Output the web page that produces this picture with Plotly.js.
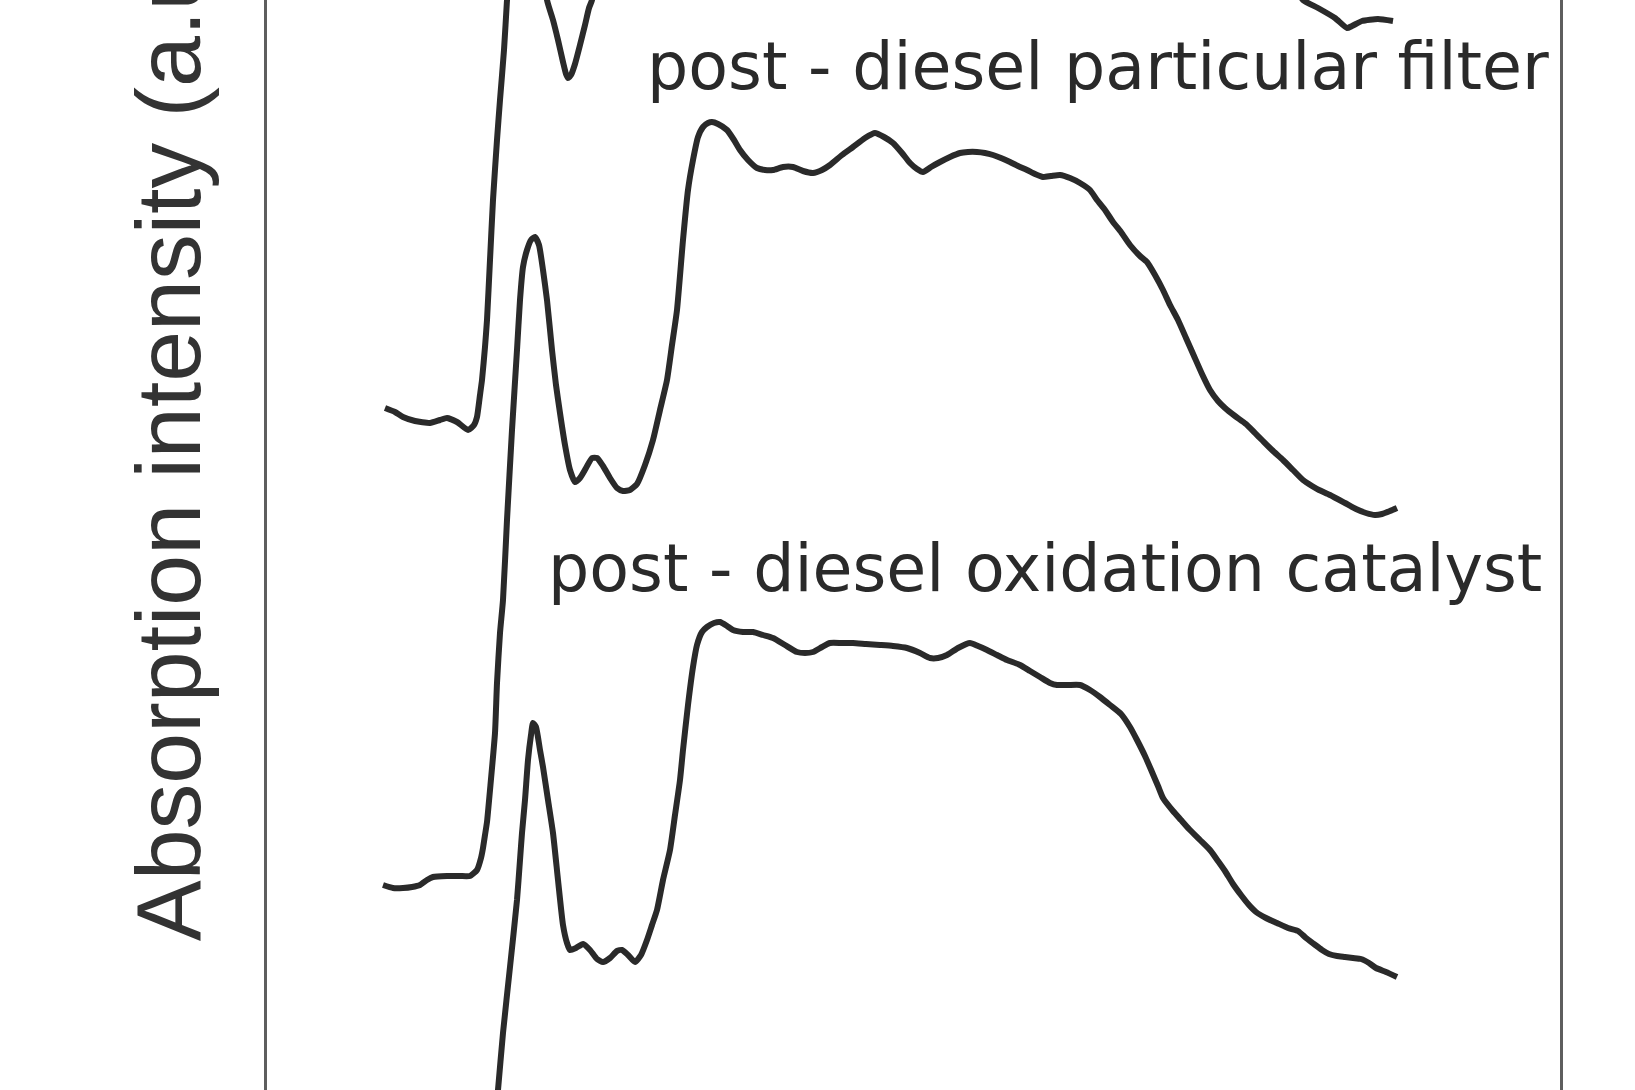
<!DOCTYPE html>
<html>
<head>
<meta charset="utf-8">
<script src="https://cdn.plot.ly/plotly-3.0.1.min.js"></script>
<style>
  html, body { margin: 0; padding: 0; background: #ffffff; overflow: hidden; }
  #chart { width: 1635px; height: 1090px; }
</style>
</head>
<body>
<div id="chart"></div>
<script>
// Relative photon energy (arbitrary units) and stacked absorption intensity (a.u.)
// Upper spectrum (only its pre-edge, white-line dip and tail are visible in the crop)
const upperEnergy = [11.9,12.9,13.7,14.9,16.4,17.4,18.1,19.1,20.2,20.8,21.1,21.4,21.6,21.9,22.1,22.4,22.7,23.1,23.4,23.8,24.1,24.6,25.2,26.0,26.8,27.5,28.1,28.7,29.2,29.7,30.0,30.2,30.5,30.9,31.4,31.9,32.3,32.6,33.2,34.4,37.4,41.4,49.4,63.4,78.4,88.4,96.4,102.4,103.7,105.2,106.9,108.1,108.6,109.6,111.2,112.7];
const upperIntensity = [9.42,9.38,9.33,9.29,9.27,9.30,9.32,9.28,9.20,9.25,9.33,9.55,9.70,10.03,10.30,10.90,11.50,12.10,12.50,13.00,13.50,14.40,15.30,15.80,15.30,14.20,13.50,13.30,13.10,12.88,12.76,12.72,12.75,12.86,13.05,13.25,13.42,13.50,14.10,15.10,16.50,17.10,16.70,16.80,16.40,15.30,14.30,13.70,13.50,13.42,13.32,13.22,13.24,13.29,13.31,13.29];

// post - diesel particular filter
const dpfEnergy = [11.7,12.7,13.7,14.6,15.4,16.1,16.7,18.1,19.4,20.4,21.1,21.5,21.7,21.9,22.1,22.4,22.9,23.1,23.4,23.7,24.1,24.6,25.1,25.4,25.7,26.1,26.5,26.9,27.3,27.7,28.1,28.6,29.0,29.4,29.9,30.4,30.9,31.4,32.0,32.6,33.1,33.7,34.4,35.1,35.7,36.4,37.1,37.9,38.7,39.4,40.1,40.6,41.1,41.7,42.2,42.7,43.2,43.7,44.2,44.6,45.2,46.1,46.8,47.4,48.2,49.1,49.9,50.7,51.7,52.7,53.7,54.7,55.6,56.4,57.6,58.7,59.9,60.9,61.8,62.7,63.6,64.4,65.1,65.7,66.5,67.4,68.4,69.4,70.2,71.1,71.9,72.7,73.5,74.4,75.2,76.1,76.9,77.7,78.5,79.4,80.4,81.4,82.4,83.1,83.9,84.7,85.5,86.4,87.4,88.1,88.9,89.7,90.4,91.2,92.0,92.8,93.6,94.4,95.2,95.9,96.9,98.0,98.9,99.6,100.6,101.7,102.7,103.7,104.6,105.3,106.4,107.9,109.0,110.0,110.9,111.6,112.4,113.1];
const dpfIntensity = [4.65,4.62,4.62,4.63,4.65,4.70,4.73,4.74,4.74,4.74,4.80,4.92,5.02,5.15,5.28,5.60,6.17,6.67,7.17,7.50,8.30,9.20,10.00,10.50,10.83,11.00,11.10,11.13,11.05,10.80,10.50,10.00,9.65,9.37,9.05,8.80,8.68,8.72,8.82,8.92,8.92,8.84,8.72,8.62,8.59,8.60,8.66,8.85,9.10,9.40,9.70,10.05,10.40,11.10,11.60,11.90,12.13,12.23,12.27,12.28,12.26,12.20,12.10,12.00,11.90,11.82,11.80,11.80,11.83,11.83,11.79,11.77,11.80,11.85,11.95,12.03,12.12,12.17,12.13,12.07,11.97,11.87,11.81,11.78,11.83,11.88,11.93,11.97,11.98,11.98,11.97,11.95,11.92,11.88,11.84,11.80,11.76,11.73,11.74,11.75,11.72,11.67,11.60,11.50,11.40,11.28,11.18,11.05,10.94,10.88,10.75,10.60,10.45,10.30,10.12,9.94,9.76,9.60,9.49,9.42,9.34,9.26,9.17,9.10,9.00,8.90,8.80,8.70,8.64,8.60,8.55,8.47,8.41,8.37,8.35,8.36,8.39,8.42];

// post - diesel oxidation catalyst
const docEnergy = [11.7,15.4,18.4,20.4,21.2,21.9,22.5,23.2,23.7,24.4,25.1,25.4,25.6,25.9,26.2,26.5,26.7,27.0,27.4,27.7,28.2,28.7,29.2,29.7,30.1,30.4,31.0,31.7,32.4,33.1,33.7,34.4,35.1,35.6,36.2,36.9,37.5,38.1,38.6,39.1,39.7,40.4,40.9,41.4,41.7,42.2,42.7,43.1,43.6,44.1,44.8,45.4,46.1,46.7,47.7,48.7,49.7,50.7,51.9,53.1,53.9,54.7,55.6,56.4,57.6,58.7,60.0,61.4,62.7,64.1,65.4,66.4,67.2,68.1,69.2,70.4,71.2,72.1,73.1,74.1,75.4,76.4,77.4,78.4,79.1,80.2,81.4,82.4,83.4,84.4,85.5,86.4,87.1,87.9,88.6,89.2,89.7,90.7,91.5,92.3,93.4,94.4,95.2,95.9,96.7,97.5,98.3,99.0,100.0,101.1,102.2,103.2,104.0,104.8,105.6,106.3,107.1,107.9,108.7,109.5,110.3,111.0,112.0,113.1];
const docIntensity = [-0.02,0.00,0.05,0.08,0.30,1.00,1.80,2.60,3.17,3.83,4.50,4.90,5.17,5.50,5.90,6.15,6.27,6.23,6.00,5.83,5.50,5.17,4.70,4.25,4.07,4.00,4.02,4.06,4.00,3.91,3.88,3.92,3.99,4.00,3.95,3.88,3.95,4.10,4.25,4.40,4.70,5.00,5.35,5.70,6.00,6.45,6.83,7.05,7.18,7.23,7.27,7.28,7.24,7.20,7.18,7.18,7.15,7.12,7.05,6.98,6.97,6.98,7.03,7.07,7.07,7.07,7.06,7.05,7.04,7.02,6.97,6.92,6.92,6.95,7.02,7.07,7.04,7.00,6.95,6.90,6.85,6.79,6.73,6.67,6.65,6.65,6.65,6.60,6.53,6.45,6.36,6.23,6.10,5.94,5.78,5.64,5.52,5.39,5.30,5.21,5.10,5.00,4.89,4.79,4.66,4.55,4.45,4.38,4.32,4.27,4.22,4.19,4.12,4.06,4.00,3.96,3.94,3.93,3.92,3.91,3.87,3.82,3.78,3.73];

const seriesNames = ["upper spectrum", "post - diesel particular filter", "post - diesel oxidation catalyst"];
const labelTexts = ["post - diesel particular filter", "post - diesel oxidation catalyst"];
const labelEnergy = [128.5, 127.8];
const labelIntensity = [12.44, 7.42];
const yTitle = "Absorption intensity (a.u.)";

const lineStyle = { color: "#2a2a2a", width: 6, shape: "spline", smoothing: 0.5 };

const traces = [
  { x: upperEnergy, y: upperIntensity, name: seriesNames[0] },
  { x: dpfEnergy, y: dpfIntensity, name: seriesNames[1] },
  { x: docEnergy, y: docIntensity, name: seriesNames[2] }
].map(t => Object.assign(t, { type: "scatter", mode: "lines", line: lineStyle, hoverinfo: "skip" }));

const labelFont = { family: "DejaVu Sans", size: 65, color: "#2a2a2a" };

const annotations = labelTexts.map((txt, i) => ({
  text: txt, x: labelEnergy[i], y: labelIntensity[i], xref: "x", yref: "y",
  xanchor: "right", yanchor: "bottom", showarrow: false, font: labelFont
}));
annotations.push({
  text: yTitle, textangle: -90, xref: "paper", yref: "paper", x: 0, y: 0.6128,
  xshift: -98.7, xanchor: "center", yanchor: "middle", showarrow: false,
  font: { family: "Liberation Sans", size: 91.5, color: "#333333" }
});

const layout = {
  width: 1635, height: 1090,
  margin: { l: 267, r: 75, t: 0, b: 0, pad: 0 },
  paper_bgcolor: "#ffffff", plot_bgcolor: "#ffffff",
  showlegend: false,
  xaxis: { range: [0.1, 129.4], showline: false, showgrid: false, zeroline: false,
           showticklabels: false, ticks: "" },
  yaxis: { range: [2.6, 13.5], showline: true, mirror: true, linecolor: "#5e5e5e", linewidth: 3,
           showgrid: false, zeroline: false, showticklabels: false, ticks: "" },
  annotations: annotations
};

Plotly.newPlot("chart", traces, layout, { staticPlot: true, displayModeBar: false });
</script>
</body>
</html>
